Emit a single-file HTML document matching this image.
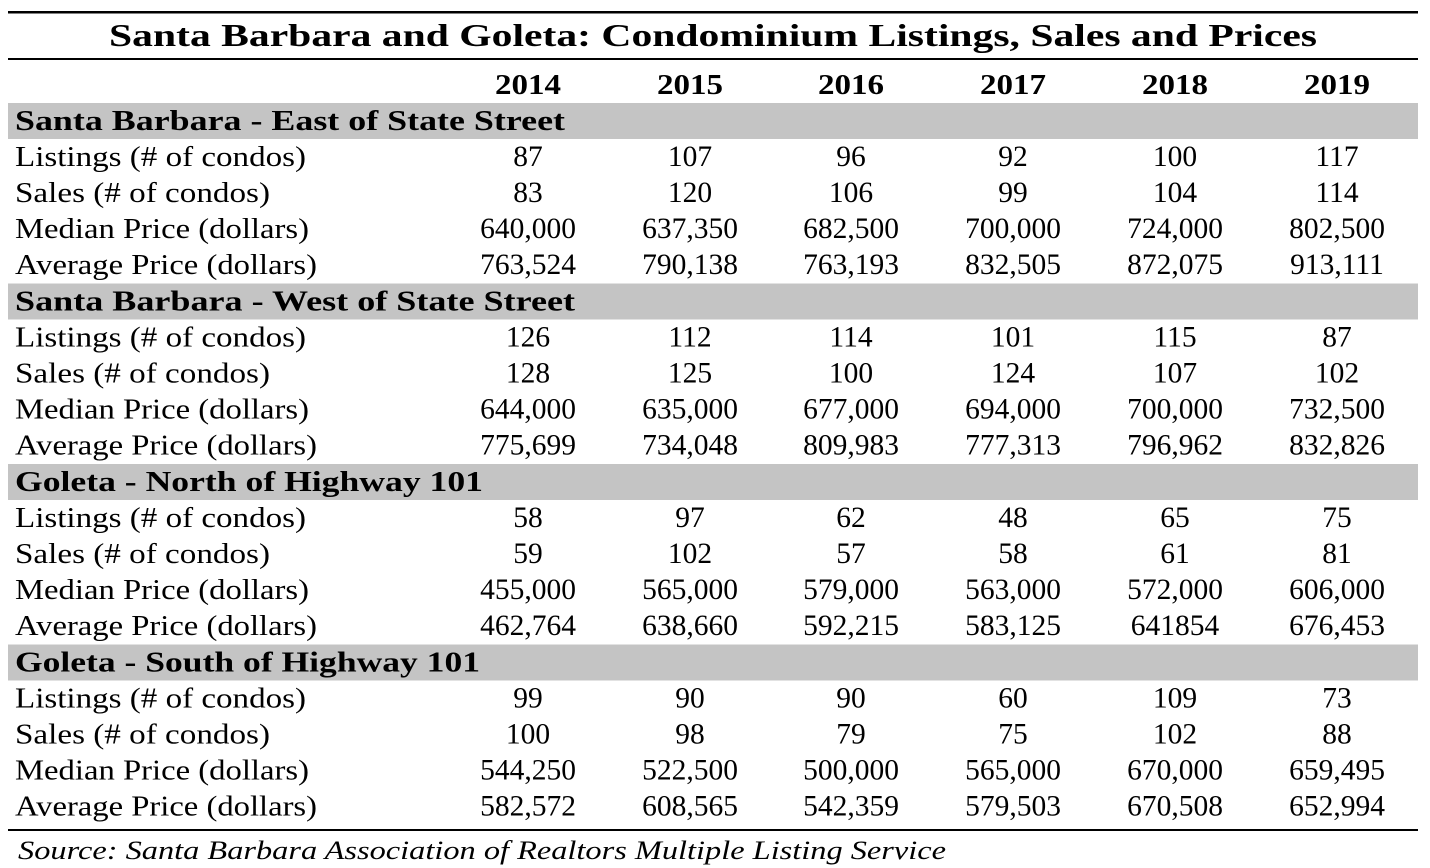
<!DOCTYPE html>
<html><head><meta charset="utf-8"><style>
html,body{margin:0;padding:0;background:#fff;}
svg{display:block;font-family:"Liberation Serif",serif;}
</style></head><body>
<svg id="t" width="1430" height="868" viewBox="0 0 1430 868"></svg>
<script>
const years=["2014","2015","2016","2017","2018","2019"];
const sections=["Santa Barbara - East of State Street","Santa Barbara - West of State Street","Goleta - North of Highway 101","Goleta - South of Highway 101"];
const rowLabels=["Listings (# of condos)","Sales (# of condos)","Median Price (dollars)","Average Price (dollars)"];
const sbEast=[["87","107","96","92","100","117"],["83","120","106","99","104","114"],["640,000","637,350","682,500","700,000","724,000","802,500"],["763,524","790,138","763,193","832,505","872,075","913,111"]];
const sbWest=[["126","112","114","101","115","87"],["128","125","100","124","107","102"],["644,000","635,000","677,000","694,000","700,000","732,500"],["775,699","734,048","809,983","777,313","796,962","832,826"]];
const golNorth=[["58","97","62","48","65","75"],["59","102","57","58","61","81"],["455,000","565,000","579,000","563,000","572,000","606,000"],["462,764","638,660","592,215","583,125","641854","676,453"]];
const golSouth=[["99","90","90","60","109","73"],["100","98","79","75","102","88"],["544,250","522,500","500,000","565,000","670,000","659,495"],["582,572","608,565","542,359","579,503","670,508","652,994"]];
const sectionData=[sbEast,sbWest,golNorth,golSouth];
const NS="http://www.w3.org/2000/svg";
const svg=document.getElementById('t');
const colX=[528,690,851,1013,1175,1337];
function mk(tag,attrs,txt){const e=document.createElementNS(NS,tag);for(const k in attrs)e.setAttribute(k,attrs[k]);if(txt!==undefined)e.textContent=txt;svg.appendChild(e);return e;}
let r;
r=mk('rect',{x:8,y:11,width:1410,height:2.5,fill:'#000'});


r=mk('rect',{x:8,y:58,width:1410,height:2,fill:'#000'});


r=mk('rect',{x:8,y:829,width:1410,height:2,fill:'#000'});


let t=mk('text',{x:713,y:46,'text-anchor':'middle','font-size':32,'font-weight':'bold',textLength:1208,lengthAdjust:'spacingAndGlyphs'},"Santa Barbara and Goleta: Condominium Listings, Sales and Prices");


years.forEach((y,i)=>{const e=mk('text',{x:colX[i],y:94,'text-anchor':'middle','font-size':28,'font-weight':'bold',textLength:66,lengthAdjust:'spacingAndGlyphs'},y);

});
const secW=[550,560,468,465];
sections.forEach((s,si)=>{
  const cy=121+si*180.5;
  const b=mk('rect',{x:8,y:cy-18,width:1410,height:36,fill:'#c4c4c4'});
  
  
  const h=mk('text',{x:15,y:cy+9,'font-size':28,'font-weight':'bold',textLength:secW[si],lengthAdjust:'spacingAndGlyphs'},s);
  
  
  rowLabels.forEach((lab,ri)=>{
    const ry=cy+36*(ri+1)+9;
    const lw=[291,255,294,302][ri];
    const l=mk('text',{x:15,y:ry,'font-size':28,textLength:lw,lengthAdjust:'spacingAndGlyphs'},lab);
    
    
    sectionData[si][ri].forEach((v,ci)=>{
      const c=mk('text',{x:colX[ci],y:ry,'text-anchor':'middle','font-size':29.5},v);
      
      
    });
  });
});
t=mk('text',{x:18,y:859,'font-size':26,'font-style':'italic',textLength:928,lengthAdjust:'spacingAndGlyphs'},"Source: Santa Barbara Association of Realtors Multiple Listing Service");


</script>
</body></html>
